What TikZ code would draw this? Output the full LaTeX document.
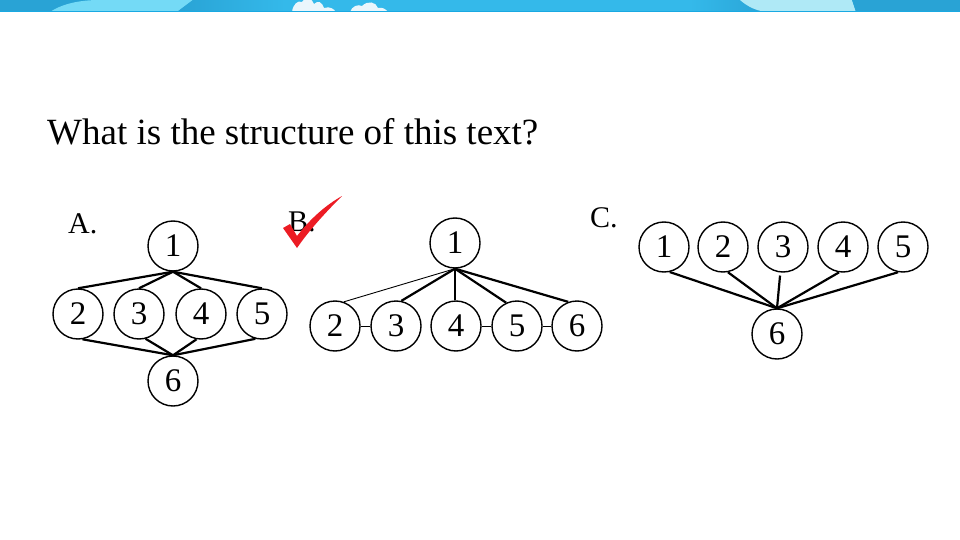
\documentclass[tikz,border=0pt]{standalone}
\usepackage{fontspec}
\setmainfont{Liberation Serif}

\definecolor{barblue}{HTML}{34B9EA}
\definecolor{bardark}{HTML}{29A3D5}
\definecolor{barlight}{HTML}{74DAF6}
\definecolor{barpale}{HTML}{AFE9F6}
\definecolor{barline}{HTML}{19A9E2}
\definecolor{cloud}{HTML}{EAF6FC}
\definecolor{tickred}{HTML}{EC1C24}

\tikzset{
    num/.style={draw, circle, minimum size=50pt, inner sep=0pt, line width=1.4pt,
        font=\fontsize{33}{33}\selectfont},
    link/.style={line width=2.2pt},
    thinlink/.style={line width=0.9pt},
    optlabel/.style={anchor=base west, inner sep=0pt, font=\fontsize{30}{30}\selectfont},
}

\begin{document}
\begin{tikzpicture}[x=1pt, y=-1pt]
    \useasboundingbox (0, 0) rectangle (960, 540);

    % top banner
    \begin{scope}
        \clip (0, 0) rectangle (960, 12);
        \fill[barblue] (0, 0) rectangle (960, 12);
        \fill[bardark] (0, 0) rectangle (200, 12);
        \fill[barlight] (50, 12) .. controls (65, 2) and (85, 0) .. (100, 0) -- (193, 0) -- (177, 12) -- cycle;
        \shade[left color=bardark, right color=barblue] (193, 0) -- (285, 0) -- (285, 12) -- (177, 12) -- cycle;
        \fill[cloud] (292, 12) .. controls (293, 4) and (298, 0) .. (302, 2)
            .. controls (306, -4) and (312, -2) .. (314, 4)
            .. controls (318, 0) and (322, 2) .. (324, 8)
            .. controls (330, 6) and (334, 9) .. (336, 12) -- cycle;
        \fill[cloud] (350, 12) .. controls (352, 6) and (358, 4) .. (362, 6)
            .. controls (368, 0) and (376, 2) .. (378, 8)
            .. controls (382, 7) and (386, 9) .. (388, 12) -- cycle;
        \shade[left color=barblue, right color=bardark] (690, 0) rectangle (770, 12);
        \fill[barpale] (740, 0) .. controls (748, 7) and (758, 12) .. (770, 12) -- (856, 12) -- (852, 0) -- cycle;
        \fill[bardark] (852, 0) -- (960, 0) -- (960, 12) -- (856, 12) -- cycle;
        \draw[barline, line width=1pt] (0, 12) -- (960, 12);
    \end{scope}

    \node[anchor=base west, inner sep=0pt, font=\fontsize{37}{37}\selectfont] (title) at (47, 145)
        {What is the structure of this text?};

    % option A
    \node[optlabel] (la) at (68, 233) {A.};
    \node[num] (a1) at (173, 246) {1};
    \node[num] (a2) at (78, 314) {2};
    \node[num] (a3) at (139, 314) {3};
    \node[num] (a4) at (201, 314) {4};
    \node[num] (a5) at (262, 314) {5};
    \node[num] (a6) at (173, 381) {6};
    \draw[link] (a1.south) -- (a2.north);
    \draw[link] (a1.south) -- (a3.north);
    \draw[link] (a1.south) -- (a4.north);
    \draw[link] (a1.south) -- (a5.north);
    \draw[link] (a2.-80) -- (a6.north);
    \draw[link] (a3.-75) -- (a6.north);
    \draw[link] (a4.-100) -- (a6.north);
    \draw[link] (a5.-105) -- (a6.north);

    % option B
    \node[optlabel] (lb) at (288, 231) {B.};
    \node[num] (b1) at (455, 243) {1};
    \node[num] (b2) at (335, 326) {2};
    \node[num] (b3) at (396, 326) {3};
    \node[num] (b4) at (456, 326) {4};
    \node[num] (b5) at (517, 326) {5};
    \node[num] (b6) at (577, 326) {6};
    \draw[thinlink] (b1.south) -- (b2.70);
    \draw[link] (b1.south) -- (b3.78);
    \draw[link] (b1.south) -- (b1.south |- b4.north);
    \draw[link] (b1.south) -- (b5.115);
    \draw[link] (b1.south) -- (b6.110);
    \draw[thinlink] (b2) -- (b3);
    \draw[thinlink] (b4) -- (b5);
    \draw[thinlink] (b5) -- (b6);
    \fill[tickred] (283, 228) -- (290, 224) -- (297, 236)
        .. controls (311, 218) and (326, 205) .. (342, 196)
        .. controls (328, 210) and (310, 229) .. (297, 248) -- cycle;

    % option C
    \node[optlabel] (lc) at (590, 227) {C.};
    \node[num] (c1) at (664, 247) {1};
    \node[num] (c2) at (723, 247) {2};
    \node[num] (c3) at (783, 247) {3};
    \node[num] (c4) at (843, 247) {4};
    \node[num] (c5) at (903, 247) {5};
    \node[num] (c6) at (777, 334) {6};
    \draw[link] (c1.-77) -- (c6.north);
    \draw[link] (c2.-79) -- (c6.north);
    \draw[link, shorten <=3pt] (c3.-96) -- (c6.north);
    \draw[link] (c4.-99) -- (c6.north);
    \draw[link] (c5.-101) -- (c6.north);
\end{tikzpicture}
\end{document}
